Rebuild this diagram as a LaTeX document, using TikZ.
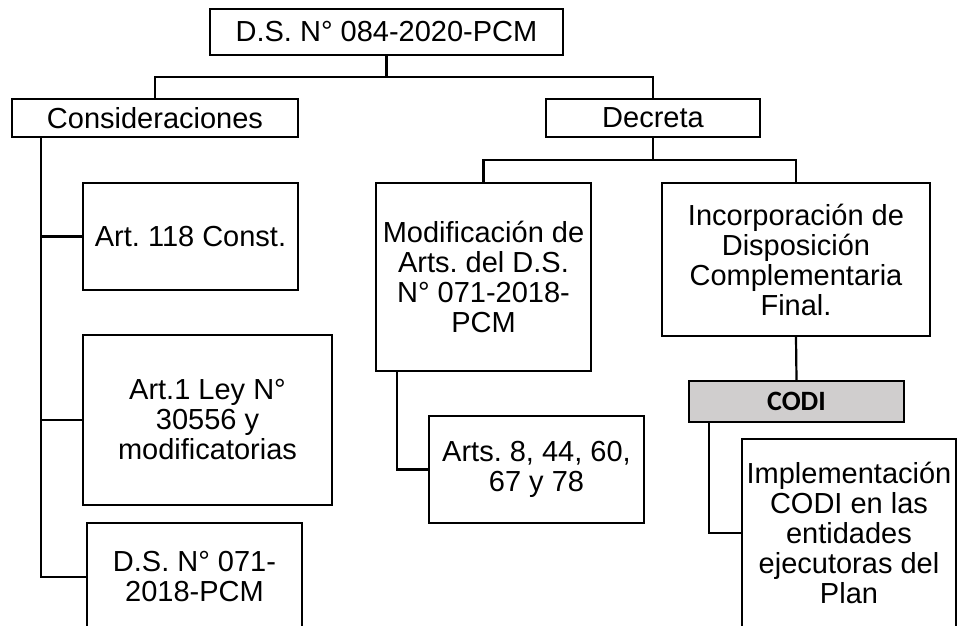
\documentclass[tikz,border=0pt]{standalone}
\usepackage{fontspec}
\setmainfont{Liberation Sans}
\newfontfamily\carl{Carlito}
\definecolor{codigray}{RGB}{208,206,206}
\frenchspacing
\begin{document}
\begin{tikzpicture}[x=1pt,y=-1pt,
  box/.style={draw=black,line width=2.2pt,fill=white,rectangle,inner sep=0pt,align=center,
    font=\frenchspacing\fontsize{29}{30}\selectfont},
  conn/.style={draw=black,line width=2.2pt}]
\clip (0,0) rectangle (958,626);
\fill[white] (0,0) rectangle (958,626);

\node[box,minimum width=353pt,minimum height=46pt] (top) at (386.5,32) {D.S. N° 084-2020-PCM};
\node[box,minimum width=286pt,minimum height=38pt] (cons) at (155,118) {Consideraciones};
\node[box,minimum width=214pt,minimum height=38pt] (decreta) at (653,118) {Decreta};

\node[box,minimum width=215pt,minimum height=107pt] (art118) at (190.5,236.5) {Art. 118 Const.};
\node[box,minimum width=249pt,minimum height=170pt] (ley) at (207.5,420) {Art.1 Ley N°\\30556 y\\modificatorias};
\node[box,minimum width=215pt,minimum height=108pt] (ds071) at (194.5,577) {D.S. N° 071-\\2018-PCM};

\node[box,minimum width=215pt,minimum height=188pt] (modif) at (483.5,277) {Modificación de\\Arts. del D.S.\\N° 071-2018-\\PCM};
\node[box,minimum width=215pt,minimum height=107pt] (art8) at (536.5,469.5) {Arts. 8, 44, 60,\\67 y 78};

\node[box,minimum width=268pt,minimum height=153pt] (incorp) at (796,259.5) {Incorporación de\\Disposición\\Complementaria\\Final.};
\node[box,fill=codigray,minimum width=215pt,minimum height=41pt,font=\carl\bfseries\fontsize{28}{30}\selectfont] (codi) at (796.5,401.5) {CODI};
\node[box,minimum width=214pt,minimum height=188pt] (impl) at (849,533) {Implementación\\CODI en las\\entidades\\ejecutoras del\\Plan};

\coordinate (j1) at (386.5,77);
\coordinate (j2) at (653,160);
\coordinate (s1) at ([xshift=30pt]cons.south west);
\coordinate (s2) at ([xshift=22pt]modif.south west);
\coordinate (s3) at ([xshift=21pt]codi.south west);

\draw[conn] (top.south) -- (j1);
\draw[conn] (cons.north) |- (j1) -| (decreta.north);
\draw[conn] (decreta.south) -- (j2);
\draw[conn] (modif.north) |- (j2) -| (incorp.north);

\draw[conn] (s1) |- (ds071.west);
\draw[conn] (art118.west) -- (art118.west -| s1);
\draw[conn] (ley.west) -- (ley.west -| s1);

\draw[conn] (s2) |- (art8.west);
\draw[conn] (incorp.south) -- (codi.north);
\draw[conn] (s3) |- (impl.west);
\end{tikzpicture}
\end{document}
